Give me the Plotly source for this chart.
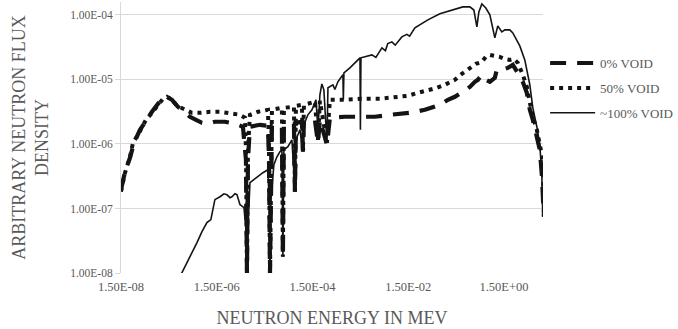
import plotly.graph_objects as go

# ---------------- data ----------------
# energies in MeV, flux in arbitrary units
e_void0 = [1.50e-8, 1.82e-8, 2.31e-8, 2.80e-8, 3.74e-8, 4.99e-8, 6.65e-8, 8.87e-8, 1.13e-7, 1.37e-7,
           1.74e-7, 2.32e-7, 3.25e-7, 4.14e-7, 5.52e-7, 7.36e-7, 9.82e-7, 1.37e-6, 2.22e-6, 3.60e-6,
           5.28e-6, 6.11e-6, 6.41e-6, 6.72e-6, 7.40e-6, 1.20e-5, 1.76e-5, 1.85e-5, 1.94e-5, 2.03e-5,
           2.13e-5, 3.44e-5, 3.61e-5, 3.79e-5, 6.14e-5, 6.44e-5, 6.75e-5, 9.01e-5, 9.46e-5, 9.93e-5,
           1.68e-4, 1.95e-4, 2.14e-4, 3.00e-4, 3.46e-4, 7.12e-4, 1.47e-3, 3.01e-3, 6.19e-3, 1.62e-2,
           3.33e-2, 6.85e-2, 1.01e-1, 1.41e-1, 2.07e-1, 2.90e-1, 3.69e-1, 4.26e-1, 5.16e-1, 6.25e-1,
           7.59e-1, 9.64e-1, 1.06, 1.35, 1.80, 2.29, 2.91, 3.70, 4.49, 5.19,
           5.99, 7.26, 8.38, 9.23, 10.2]
f_void0 = [1.95e-7, 3.72e-7, 6.11e-7, 1.04e-6, 1.66e-6, 2.37e-6, 3.15e-6, 4.19e-6, 5.19e-6, 5.38e-6,
           4.83e-6, 3.77e-6, 3.04e-6, 2.64e-6, 2.37e-6, 2.13e-6, 2.06e-6, 2.21e-6, 2.21e-6, 2.06e-6,
           1.85e-6, 5.69e-7, 1.0e-8, 5.69e-7, 1.85e-6, 1.98e-6, 1.91e-6, 5.69e-7, 1.0e-8, 5.69e-7,
           1.91e-6, 1.91e-6, 1.79e-8, 1.98e-6, 2.06e-6, 1.82e-7, 2.13e-6, 2.21e-6, 7.57e-7, 2.21e-6,
           2.37e-6, 1.04e-6, 2.37e-6, 9.72e-7, 2.55e-6, 2.64e-6, 2.64e-6, 2.64e-6, 2.83e-6, 3.04e-6,
           3.38e-6, 4.04e-6, 4.83e-6, 5.38e-6, 6.43e-6, 7.67e-6, 9.18e-6, 9.86e-6, 1.18e-5, 9.86e-6,
           9.18e-6, 1.06e-5, 1.41e-5, 1.41e-5, 1.51e-5, 1.68e-5, 1.26e-5, 9.18e-6, 6.21e-6, 3.38e-6,
           2.37e-6, 1.29e-6, 8.13e-7, 3.34e-7, 7.46e-8]

e_void50 = [1.50e-8, 1.65e-8, 1.82e-8, 2.31e-8, 2.67e-8, 3.40e-8, 4.11e-8, 4.99e-8, 6.65e-8, 8.87e-8,
            1.13e-7, 1.37e-7, 1.74e-7, 2.21e-7, 3.25e-7, 4.55e-7, 6.68e-7, 1.08e-6, 1.75e-6, 2.83e-6,
            4.57e-6, 5.82e-6, 6.11e-6, 6.41e-6, 6.72e-6, 7.40e-6, 1.09e-5, 1.76e-5, 1.85e-5, 1.94e-5,
            2.03e-5, 2.13e-5, 3.44e-5, 3.61e-5, 3.79e-5, 6.14e-5, 6.44e-5, 6.75e-5, 9.01e-5, 9.46e-5,
            9.93e-5, 1.68e-4, 1.95e-4, 2.14e-4, 3.00e-4, 3.46e-4, 6.47e-4, 1.47e-3, 3.83e-3, 8.67e-3,
            1.47e-2, 2.38e-2, 4.24e-2, 5.93e-2, 8.71e-2, 1.41e-1, 1.97e-1, 2.90e-1, 3.87e-1, 5.16e-1,
            6.25e-1, 7.59e-1, 9.64e-1, 1.22, 1.56, 1.98, 2.40, 2.91, 3.70, 4.49,
            5.19, 5.99, 7.26, 8.38, 9.68, 10.2]
f_void50 = [1.82e-7, 2.79e-7, 3.58e-7, 6.33e-7, 1.04e-6, 1.39e-6, 1.85e-6, 2.37e-6, 3.04e-6, 4.04e-6,
            5.01e-6, 5.38e-6, 4.83e-6, 3.90e-6, 3.38e-6, 3.04e-6, 3.04e-6, 3.15e-6, 3.15e-6, 3.04e-6,
            2.83e-6, 2.55e-6, 8.13e-7, 1.0e-8, 8.13e-7, 2.83e-6, 3.15e-6, 3.38e-6, 8.13e-7, 1.0e-8,
            8.13e-7, 3.38e-6, 3.63e-6, 1.79e-8, 3.63e-6, 3.77e-6, 1.82e-7, 3.90e-6, 4.04e-6, 8.13e-7,
            4.04e-6, 4.50e-6, 1.16e-6, 4.66e-6, 1.04e-6, 4.83e-6, 4.83e-6, 5.01e-6, 5.01e-6, 5.38e-6,
            5.58e-6, 6.21e-6, 6.90e-6, 7.41e-6, 8.24e-6, 9.86e-6, 1.22e-5, 1.51e-5, 1.74e-5, 1.87e-5,
            2.24e-5, 2.40e-5, 2.32e-5, 2.24e-5, 2.08e-5, 2.01e-5, 2.08e-5, 1.81e-5, 1.18e-5, 7.67e-6,
            4.34e-6, 2.64e-6, 1.66e-6, 1.04e-6, 5.69e-7, 7.46e-8]

e_void100 = [2.11e-7, 2.81e-7, 4.14e-7, 5.79e-7, 7.36e-7, 9.35e-7, 1.13e-6, 1.25e-6, 1.37e-6, 1.75e-6,
             2.12e-6, 2.45e-6, 2.83e-6, 3.11e-6, 3.60e-6, 3.96e-6, 4.57e-6, 5.55e-6, 6.11e-6, 6.41e-6,
             6.72e-6, 7.40e-6, 8.97e-6, 1.04e-5, 1.20e-5, 1.38e-5, 1.76e-5, 1.85e-5, 1.94e-5, 2.03e-5,
             2.34e-5, 2.71e-5, 3.13e-5, 3.44e-5, 3.61e-5, 3.79e-5, 4.59e-5, 5.57e-5, 6.44e-5, 6.75e-5,
             8.18e-5, 9.46e-5, 9.93e-5, 1.20e-4, 1.46e-4, 1.77e-4, 1.95e-4, 2.14e-4, 2.35e-4, 2.59e-4,
             3.00e-4, 3.15e-4, 4.00e-4, 4.40e-4, 5.08e-4, 6.47e-4, 6.60e-4, 6.79e-4, 9.06e-4, 1.21e-3,
             1.47e-3, 1.50e-3, 1.54e-3, 2.61e-3, 3.16e-3, 4.22e-3, 5.00e-3, 5.60e-3, 6.82e-3, 8.00e-3,
             1.10e-2, 1.40e-2, 1.60e-2, 2.06e-2, 3.85e-2, 6.85e-2, 1.28e-1, 2.07e-1, 2.90e-1, 3.52e-1,
             4.06e-1, 4.47e-1, 5.16e-1, 6.25e-1, 7.59e-1, 9.64e-1, 1.11, 1.35, 1.56, 1.98,
             2.29, 2.52, 3.20, 4.07, 5.19, 5.99, 7.26, 8.38, 9.23, 9.68]
f_void100 = [6.6e-9, 1.0e-8, 1.79e-8, 2.96e-8, 4.38e-8, 6.03e-8, 6.71e-8, 9.57e-8, 1.37e-7, 1.52e-7,
             1.69e-7, 1.64e-7, 1.47e-7, 1.52e-7, 1.69e-7, 1.64e-7, 1.15e-7, 1.03e-7, 4.70e-8, 6.6e-9,
             4.70e-8, 2.51e-7, 2.79e-7, 3.11e-7, 3.34e-7, 3.58e-7, 3.99e-7, 1.37e-7, 6.6e-9, 1.37e-7,
             4.76e-7, 6.33e-7, 7.57e-7, 8.13e-7, 1.79e-8, 8.13e-7, 9.06e-7, 1.16e-6, 1.82e-7, 1.16e-6,
             1.66e-6, 7.57e-7, 1.98e-6, 2.83e-6, 3.38e-6, 4.83e-6, 1.66e-6, 5.78e-6, 8.50e-6, 6.90e-6,
             1.04e-6, 7.41e-6, 8.24e-6, 7.00e-6, 9.18e-6, 1.18e-5, 4.83e-6, 1.26e-5, 1.51e-5, 1.87e-5,
             2.16e-5, 1.66e-6, 2.16e-5, 2.40e-5, 2.20e-5, 3.08e-5, 2.80e-5, 3.60e-5, 3.82e-5, 3.40e-5,
             4.56e-5, 5.00e-5, 4.70e-5, 6.29e-5, 8.37e-5, 1.04e-4, 1.19e-4, 1.33e-4, 1.33e-4, 1.19e-4,
             6.52e-5, 1.11e-4, 1.48e-4, 1.28e-4, 1.00e-4, 4.40e-5, 6.76e-5, 5.46e-5, 5.86e-5, 5.86e-5,
             5.26e-5, 4.56e-5, 3.31e-5, 2.01e-5, 8.24e-6, 3.63e-6, 1.85e-6, 9.72e-7, 3.34e-7, 7.46e-8]

series_names = ["0% VOID", "50% VOID", "~100% VOID"]
y_tick_vals = [1e-8, 1e-7, 1e-6, 1e-5, 1e-4]
y_tick_text = ["1.00E-08", "1.00E-07", "1.00E-06", "1.00E-05", "1.00E-04"]
x_tick_vals = [1.5e-8, 1.5e-6, 1.5e-4, 1.5e-2, 1.5]
x_tick_text = ["1.50E-08", "1.50E-06", "1.50E-04", "1.50E-02", "1.50E+00"]

# ---------------- figure ----------------
FONT = "Liberation Serif"
GREY = "#595959"
LINE = "#141414"

fig = go.Figure()
fig.add_trace(go.Scatter(x=e_void0, y=f_void0, mode="lines", name=series_names[0],
                         legendgroup="a",
                         line=dict(color=LINE, width=4.2, dash="16px,11px")))
fig.add_trace(go.Scatter(x=e_void50, y=f_void50, mode="lines", name=series_names[1],
                         legendgroup="b",
                         line=dict(color=LINE, width=4, dash="4px,5px")))
fig.add_trace(go.Scatter(x=e_void100, y=f_void100, mode="lines", name=series_names[2],
                         legendgroup="c",
                         line=dict(color=LINE, width=1.6)))

fig.update_layout(
    width=678, height=329,
    margin=dict(l=121, r=135, t=2, b=56, autoexpand=False),
    paper_bgcolor="white", plot_bgcolor="white",
    font=dict(family=FONT, color=GREY),
    showlegend=True,
    legend=dict(x=1.005, xanchor="left", y=0.83, yanchor="top",
                font=dict(family=FONT, size=13, color=GREY),
                itemwidth=45, tracegroupgap=5, traceorder="grouped",
                bgcolor="rgba(0,0,0,0)"),
    xaxis=dict(type="log", range=[-7.824, 0.99],
               tickvals=x_tick_vals, ticktext=x_tick_text,
               tickfont=dict(family=FONT, size=12.5, color=GREY),
               ticklabelstandoff=4,
               showgrid=False, zeroline=False, showline=False, ticks="",
               title=dict(text="NEUTRON ENERGY IN MEV",
                          font=dict(family=FONT, size=18, color=GREY), standoff=18)),
    yaxis=dict(type="log", range=[-8, -3.80],
               tickvals=y_tick_vals, ticktext=y_tick_text,
               tickfont=dict(family=FONT, size=11.5, color=GREY),
               showgrid=True, gridcolor="#d9d9d9", gridwidth=1,
               zeroline=False, showline=True, linecolor="#d9d9d9", linewidth=1,
               ticks="outside", ticklen=5, tickcolor="#d9d9d9",
               title=dict(text="ARBITRARY NEUTRON FLUX<br>DENSITY",
                          font=dict(family=FONT, size=18, color=GREY), standoff=16)),
)

fig.write_html("out.html",
               config={"displayModeBar": False},
               post_script="document.body.style.margin='0';document.body.style.padding='0';")
